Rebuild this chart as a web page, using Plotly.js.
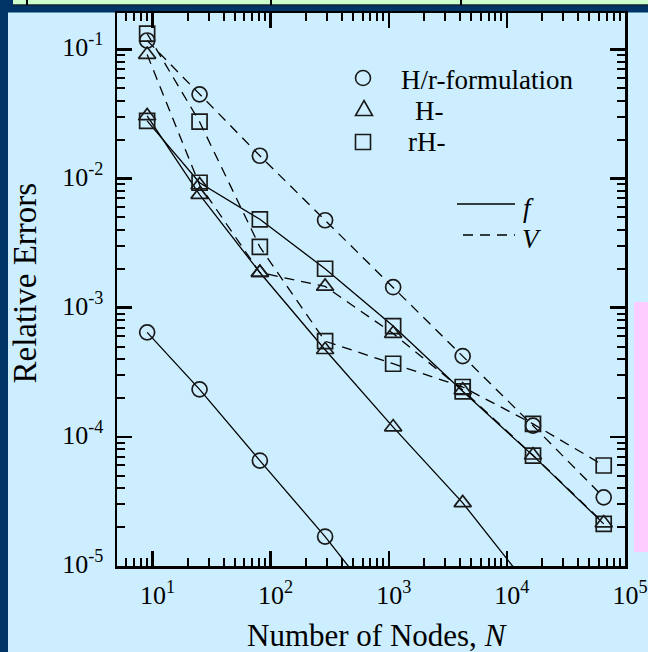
<!DOCTYPE html>
<html>
<head>
<meta charset="utf-8">
<script src="https://cdn.plot.ly/plotly-3.0.1.min.js"></script>
<style>html,body{margin:0;padding:0;background:#cceeff;}#chart{width:648px;height:652px;}</style>
</head>
<body>
<div id="chart"></div>
<script>
// ---- data ----
const nodes = [9, 25, 81, 289, 1089, 4225, 16641, 66049];
const circleF = [6.44e-4, 2.33e-4, 6.55e-5, 1.69e-5, 3.6e-6];
const triangleF = [0.0305, 0.0075, 0.00187, 4.72e-4, 1.19e-4, 3.08e-5, 6.3e-6];
const squareF = [0.0279, 0.00927, 0.00483, 0.00200, 7.2e-4, 2.25e-4, 7.15e-5, 2.12e-5];
const circleV = [0.117, 0.0448, 0.0150, 0.00475, 0.00144, 4.22e-4, 1.22e-4, 3.4e-5];
const triangleV = [0.091, 0.0089, 0.00187, 0.00146, 6.3e-4, 2.3e-4, 7.2e-5, 2.15e-5];
const squareV = [0.132, 0.0275, 0.00295, 5.5e-4, 3.68e-4, 2.43e-4, 1.26e-4, 6.0e-5];

const xTickVals = [10, 100, 1000, 10000, 100000];
const xTickText = ['10<sup>1</sup>', '10<sup>2</sup>', '10<sup>3</sup>', '10<sup>4</sup>', '10<sup>5</sup>'];
const yTickVals = [1e-5, 1e-4, 1e-3, 1e-2, 1e-1];
const yTickText = ['10<sup>-5</sup>', '10<sup>-4</sup>', '10<sup>-3</sup>', '10<sup>-2</sup>', '10<sup>-1</sup>'];

const legendLabels = ['H/r-formulation', 'H-', 'rH-'];
const styleLabels = ['<i>f</i>', '<i>V</i>'];
const xTitle = 'Number of Nodes, <i>N</i>';
const yTitle = 'Relative Errors';

// ---- styling ----
const FONT = 'Liberation Serif, Times New Roman, Times, serif';
const W = 648, H = 652;
const M = {l: 117, r: 23, t: 13, b: 86};
const PW = W - M.l - M.r, PH = H - M.t - M.b;
const px = v => (v - M.l) / PW;
const py = v => (H - M.b - v) / PH;
const DASH = '10px,7px';

function minorVals(lo, hi) {
  const out = [];
  for (let e = lo; e <= hi; e++) for (let k = 2; k <= 9; k++) out.push(k * Math.pow(10, e));
  return out;
}

function series(y, symbol, dash) {
  return {
    x: nodes.slice(0, y.length), y: y, type: 'scatter', mode: 'lines+markers',
    line: {color: '#000', width: 1.3, dash: dash},
    marker: {symbol: symbol, size: 15, color: '#1a1a1a', line: {width: 1.7, color: '#1a1a1a'}},
    showlegend: false, hoverinfo: 'skip'
  };
}

const traces = [
  series(circleF, 'circle-open', 'solid'),
  series(triangleF, 'triangle-up-open', 'solid'),
  series(squareF, 'square-open', 'solid'),
  series(circleV, 'circle-open', DASH),
  series(triangleV, 'triangle-up-open', DASH),
  series(squareV, 'square-open', DASH)
];

const DARK = '#003366', LIGHT_GREEN = '#ccffcc', PINK = '#ffccff';

function rect(x0, y0, x1, y1, fill) {
  return {type: 'rect', xref: 'paper', yref: 'paper', x0: px(x0), x1: px(x1), y0: py(y1), y1: py(y0),
          fillcolor: fill, line: {width: 0}, layer: 'below'};
}
function seg(x0, y0, x1, y1, color, width, dash) {
  return {type: 'line', xref: 'paper', yref: 'paper', x0: px(x0), x1: px(x1), y0: py(y0), y1: py(y1),
          line: {color: color, width: width, dash: dash || 'solid'}};
}

const shapes = [
  rect(0, 0, W, 12.5, DARK),
  rect(0, 0, 8, H, DARK),
  rect(13, 0, W, 4.5, LIGHT_GREEN),
  seg(13, 5, W, 5, '#1a1a1a', 1),
  seg(27, 0, 27, 5, '#000', 2),
  seg(271, 0, 271, 5, '#000', 2),
  seg(461, 0, 461, 5, '#000', 2),
  rect(634, 302, W, 552, PINK),
  // legend symbols
  {type: 'circle', xref: 'paper', yref: 'paper', x0: px(355.5), x1: px(370.5), y0: py(85.5), y1: py(70.5),
   line: {color: '#1a1a1a', width: 1.6}},
  {type: 'path', xref: 'paper', yref: 'paper',
   path: 'M' + px(364) + ',' + py(100.5) + ' L' + px(372.5) + ',' + py(115.5) + ' L' + px(355.5) + ',' + py(115.5) + ' Z',
   line: {color: '#1a1a1a', width: 1.6}},
  {type: 'rect', xref: 'paper', yref: 'paper', x0: px(355.5), x1: px(370.5), y0: py(149.5), y1: py(134.5),
   line: {color: '#1a1a1a', width: 1.6}},
  seg(457, 204, 515, 204, '#000', 1.3),
  seg(463, 235, 515, 235, '#000', 1.3, DASH)
];

function ann(text, x, y, size, opts) {
  return Object.assign({text: text, xref: 'paper', yref: 'paper', x: px(x), y: py(y), showarrow: false,
    xanchor: 'left', yanchor: 'middle', font: {family: FONT, size: size, color: '#000'}}, opts || {});
}

const annotations = [
  ann(legendLabels[0], 399, 80.2, 27),
  ann(legendLabels[1], 413, 110.9, 27),
  ann(legendLabels[2], 406, 141.9, 27),
  ann(styleLabels[0], 521, 208, 27),
  ann(styleLabels[1], 520, 239, 27),
  ann(xTitle, 377.5, 635, 31, {xanchor: 'center'}),
  ann(yTitle, 24.5, 283, 33, {xanchor: 'center', textangle: -90})
];

const axisCommon = {
  type: 'log', showgrid: false, zeroline: false,
  showline: true, linecolor: '#000', linewidth: 2.5, mirror: 'ticks',
  ticks: 'inside', ticklen: 15, tickwidth: 2.5, tickcolor: '#000',
  tickmode: 'array', ticklabeloverflow: 'allow',
  tickfont: {family: FONT, size: 26, color: '#000'}
};

const layout = {
  width: W, height: H,
  margin: {l: M.l, r: M.r, t: M.t, b: M.b, pad: 0},
  paper_bgcolor: '#cceeff', plot_bgcolor: 'rgba(0,0,0,0)',
  xaxis: Object.assign({}, axisCommon, {
    range: [Math.log10(5), 5], tickvals: xTickVals, ticktext: xTickText,
    ticklabelstandoff: 4, ticklabelshift: 5,
    minor: {tickmode: 'array', tickvals: minorVals(0, 4).filter(v => v >= 5), ticks: 'inside', ticklen: 8, tickwidth: 2, tickcolor: '#000'}
  }),
  yaxis: Object.assign({}, axisCommon, {
    range: [-5, -0.719], tickvals: yTickVals, ticktext: yTickText,
    ticklabelstandoff: 6, ticklabelshift: -2,
    minor: {tickmode: 'array', tickvals: minorVals(-5, -1), ticks: 'inside', ticklen: 8, tickwidth: 2, tickcolor: '#000'}
  }),
  shapes: shapes,
  annotations: annotations,
  showlegend: false
};

Plotly.newPlot('chart', traces, layout, {staticPlot: true, displayModeBar: false});
</script>
</body>
</html>
